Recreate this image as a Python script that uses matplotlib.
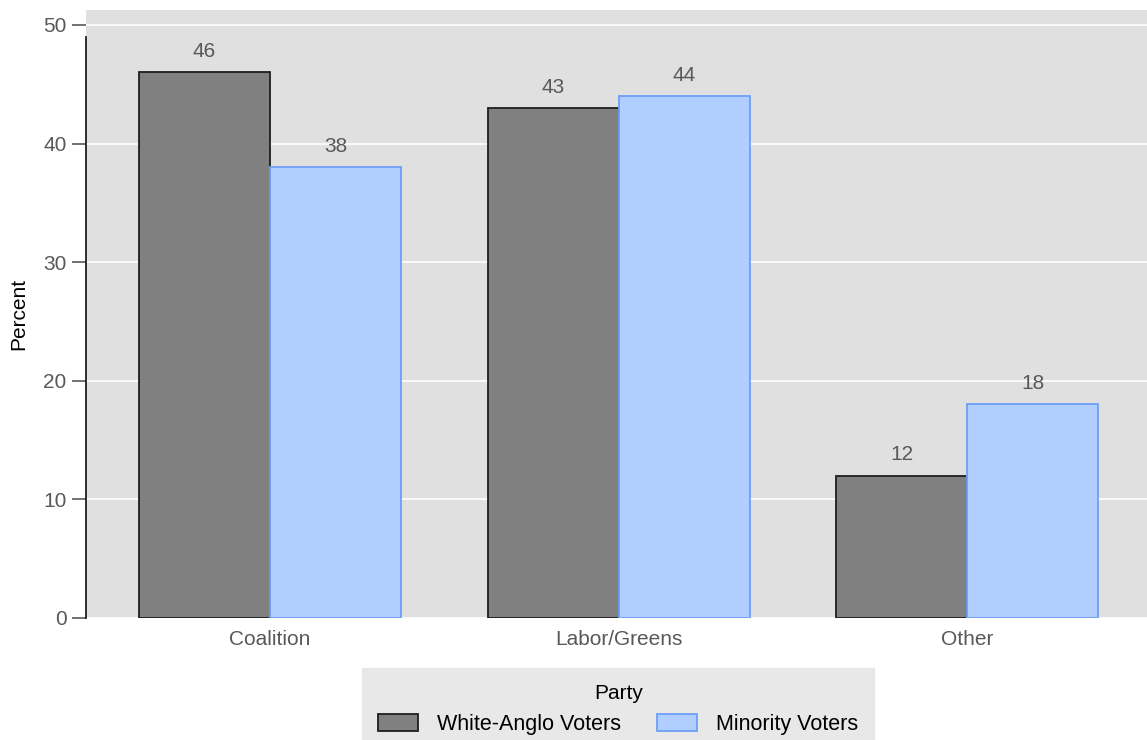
import numpy as np
import matplotlib
matplotlib.use("Agg")
import matplotlib.pyplot as plt

plt.rcParams['font.family'] = ['Liberation Sans', 'DejaVu Sans']

# 数据
parties = ['Coalition', 'Labor/Greens', 'Other']
white_anglo = [46, 43, 12]
minority = [38, 44, 18]
series_names = ['White-Anglo Voters', 'Minority Voters']

fig = plt.figure(figsize=(11.47, 7.4), dpi=100)
ax = fig.add_axes([0.075, 0.165, 0.925, 0.8215])
ax.set_facecolor('#e0e0e0')

x = np.arange(len(parties))
w = 0.376
b1 = ax.bar(x - w / 2, white_anglo, w, color='#808080', edgecolor='#1e1e1e',
            linewidth=1.3, label=series_names[0], zorder=3)
b2 = ax.bar(x + w / 2, minority, w, color='#b0ceff', edgecolor='#6e9ff5',
            linewidth=1.3, label=series_names[1], zorder=3)

# 数值标签
for bars, vals in [(b1, white_anglo), (b2, minority)]:
    for r, v in zip(bars, vals):
        ax.annotate(str(v), (r.get_x() + r.get_width() / 2, v),
                    xytext=(0, 8), textcoords='offset points',
                    ha='center', va='bottom', fontsize=15, color='#595959')

ax.set_xlim(-0.528, 2.516)
ax.set_ylim(0, 51.26)
ax.set_yticks([0, 10, 20, 30, 40, 50])
ax.set_xticks(x)
ax.set_xticklabels(parties)
ax.yaxis.grid(True, color='white', linewidth=1.2, zorder=0)
ax.set_axisbelow(True)

for s in ['top', 'right', 'bottom']:
    ax.spines[s].set_visible(False)
ax.spines['left'].set_bounds(0, 49)
ax.spines['left'].set_linewidth(1.3)
ax.spines['left'].set_color('#1e1e1e')

ax.tick_params(axis='y', length=10, width=1.2, color='#595959',
               labelsize=15, labelcolor='#595959', pad=4)
ax.tick_params(axis='x', length=0, labelsize=15, labelcolor='#595959', pad=9)
ax.set_ylabel('Percent', fontsize=15, color='black')
ax.yaxis.set_label_coords(-0.054, 0.5)

leg = fig.legend(handles=[b1, b2], loc='upper center',
                 bbox_to_anchor=(0.539, 0.097), ncol=2, title='Party',
                 fontsize=15.5, title_fontsize=15, frameon=True, fancybox=False,
                 facecolor='#e8e8e8', edgecolor='#e8e8e8', framealpha=1,
                 handlelength=1.85, handleheight=0.85, handletextpad=0.9,
                 columnspacing=1.65, borderpad=0.75, borderaxespad=0)

plt.savefig('out.png', dpi=100)
